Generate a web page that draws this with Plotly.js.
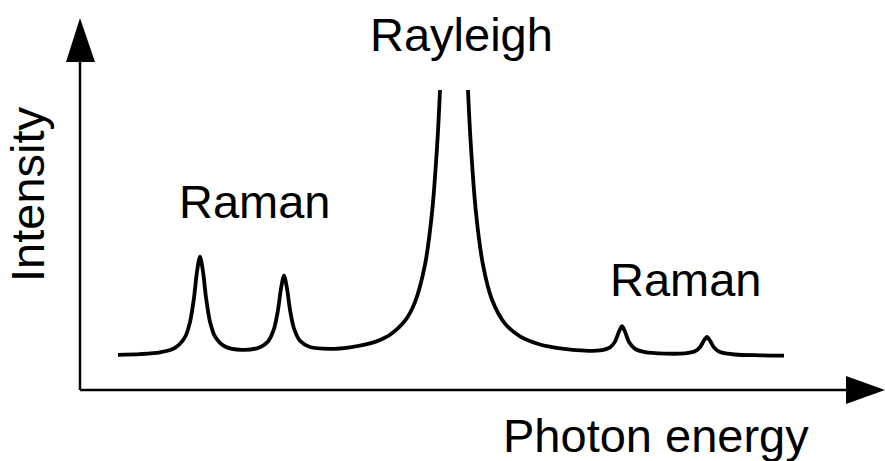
<!DOCTYPE html>
<html>
<head>
<meta charset="utf-8">
<script src="https://cdn.plot.ly/plotly-3.0.1.min.js"></script>
<style>html,body{margin:0;padding:0;background:#fff;}#chart{width:885px;height:461px;}</style>
</head>
<body>
<div id="chart"></div>
<script>
// Photon energy (arbitrary units, 0-100) and intensity (arbitrary units, 0-100 = top of view)
const photonEnergy = [4.75, 7.5, 10, 11.875, 13.125, 13.75, 14.25, 14.625, 15, 15.375, 15.75, 16.25, 16.875, 18.125,
  20.25, 22.25, 23.5, 24.25, 24.75, 25.125, 25.5, 25.875, 26.25, 26.75, 27.5, 28.75, 31.25, 33.75, 36.25, 37.5,
  38.75, 40.625, 41.875, 43.125, 44, 44.625, 45, 45.625, 46.25, 46.75, 47.25, 47.875, 48.5, 48.875, 49.5, 50.375,
  51.5, 53.125, 55, 57.5, 60, 63.125, 65, 66.25, 66.875, 67.375, 67.75, 68.125, 68.625, 69.375, 70.625, 73.125,
  75.625, 76.875, 77.5, 78, 78.375, 78.75, 79.25, 80, 81.875, 85, 88];
const intensity = [11.73, 11.97, 12.57, 14.07, 17.63, 22.63, 30.73, 39.47, 44.47, 39.5, 30.83, 22.77, 17.87, 14.5,
  13.37, 14.03, 16.2, 20.37, 26.67, 33.83, 38.1, 33.87, 26.73, 20.5, 16.43, 14.33, 13.73, 14.23, 15.53, 16.67,
  18.4, 23.1, 29.3, 41.77, 59.07, 80.77, 99.9, 145.7, 201, 222.2, 201, 145.7, 99.93, 80.77, 59.03, 41.7,
  30.1, 22.13, 17.9, 15.17, 13.9, 13.13, 13.2, 14.2, 16.13, 19.5, 21.27, 19.43, 15.97, 13.7, 12.6, 12.13,
  12.23, 12.93, 14.27, 16.5, 17.67, 16.47, 14.2, 12.67, 11.83, 11.57, 11.47];

const labels = {rayleigh: "Rayleigh", raman: "Raman", xTitle: "Photon energy", yTitle: "Intensity"};

const font = {family: "Liberation Sans, Arial, sans-serif", size: 47, color: "#000"};

const trace = {
  x: photonEnergy, y: intensity, type: "scatter", mode: "lines",
  line: {color: "#000", width: 3.8, shape: "spline", smoothing: 0.8},
  hoverinfo: "skip", showlegend: false
};

const axisCommon = {showgrid: false, zeroline: false, showticklabels: false, showline: false, ticks: "", fixedrange: true};

const layout = {
  width: 885, height: 461,
  margin: {l: 80, r: 5, t: 90, b: 71, pad: 0},
  paper_bgcolor: "#fff", plot_bgcolor: "#fff",
  xaxis: Object.assign({range: [0, 100]}, axisCommon),
  yaxis: Object.assign({range: [0, 100]}, axisCommon),
  shapes: [
    {type: "line", xref: "paper", yref: "paper", x0: 0, x1: 0, y0: 0, y1: 1.095, line: {color: "#000", width: 2.5}},
    {type: "line", xref: "paper", yref: "paper", x0: 0, x1: 0.958, y0: 0, y1: 0, line: {color: "#000", width: 2.5}},
    {type: "path", xref: "paper", yref: "paper", path: "M -0.0175 1.0933 L 0.01875 1.0933 L 0 1.24 Z",
      fillcolor: "#000", line: {color: "#000", width: 0}},
    {type: "path", xref: "paper", yref: "paper", path: "M 0.9575 0.0467 L 0.9575 -0.0467 L 1.00625 0 Z",
      fillcolor: "#000", line: {color: "#000", width: 0}}
  ],
  annotations: [
    {text: labels.rayleigh, xref: "paper", yref: "paper", x: 0.47625, y: 1.185, xanchor: "center", yanchor: "middle", showarrow: false, font: font},
    {text: labels.raman, xref: "paper", yref: "paper", x: 0.21875, y: 0.6267, xanchor: "center", yanchor: "middle", showarrow: false, font: font},
    {text: labels.raman, xref: "paper", yref: "paper", x: 0.7575, y: 0.37, xanchor: "center", yanchor: "middle", showarrow: false, font: font},
    {text: labels.xTitle, xref: "paper", yref: "paper", x: 0.72, y: -0.1533, xanchor: "center", yanchor: "middle", showarrow: false, font: font},
    {text: labels.yTitle, xref: "paper", yref: "paper", x: -0.06625, y: 0.6533, xanchor: "center", yanchor: "middle", textangle: -90, showarrow: false, font: font}
  ]
};

Plotly.newPlot("chart", [trace], layout, {displayModeBar: false, staticPlot: true});
</script>
</body>
</html>
